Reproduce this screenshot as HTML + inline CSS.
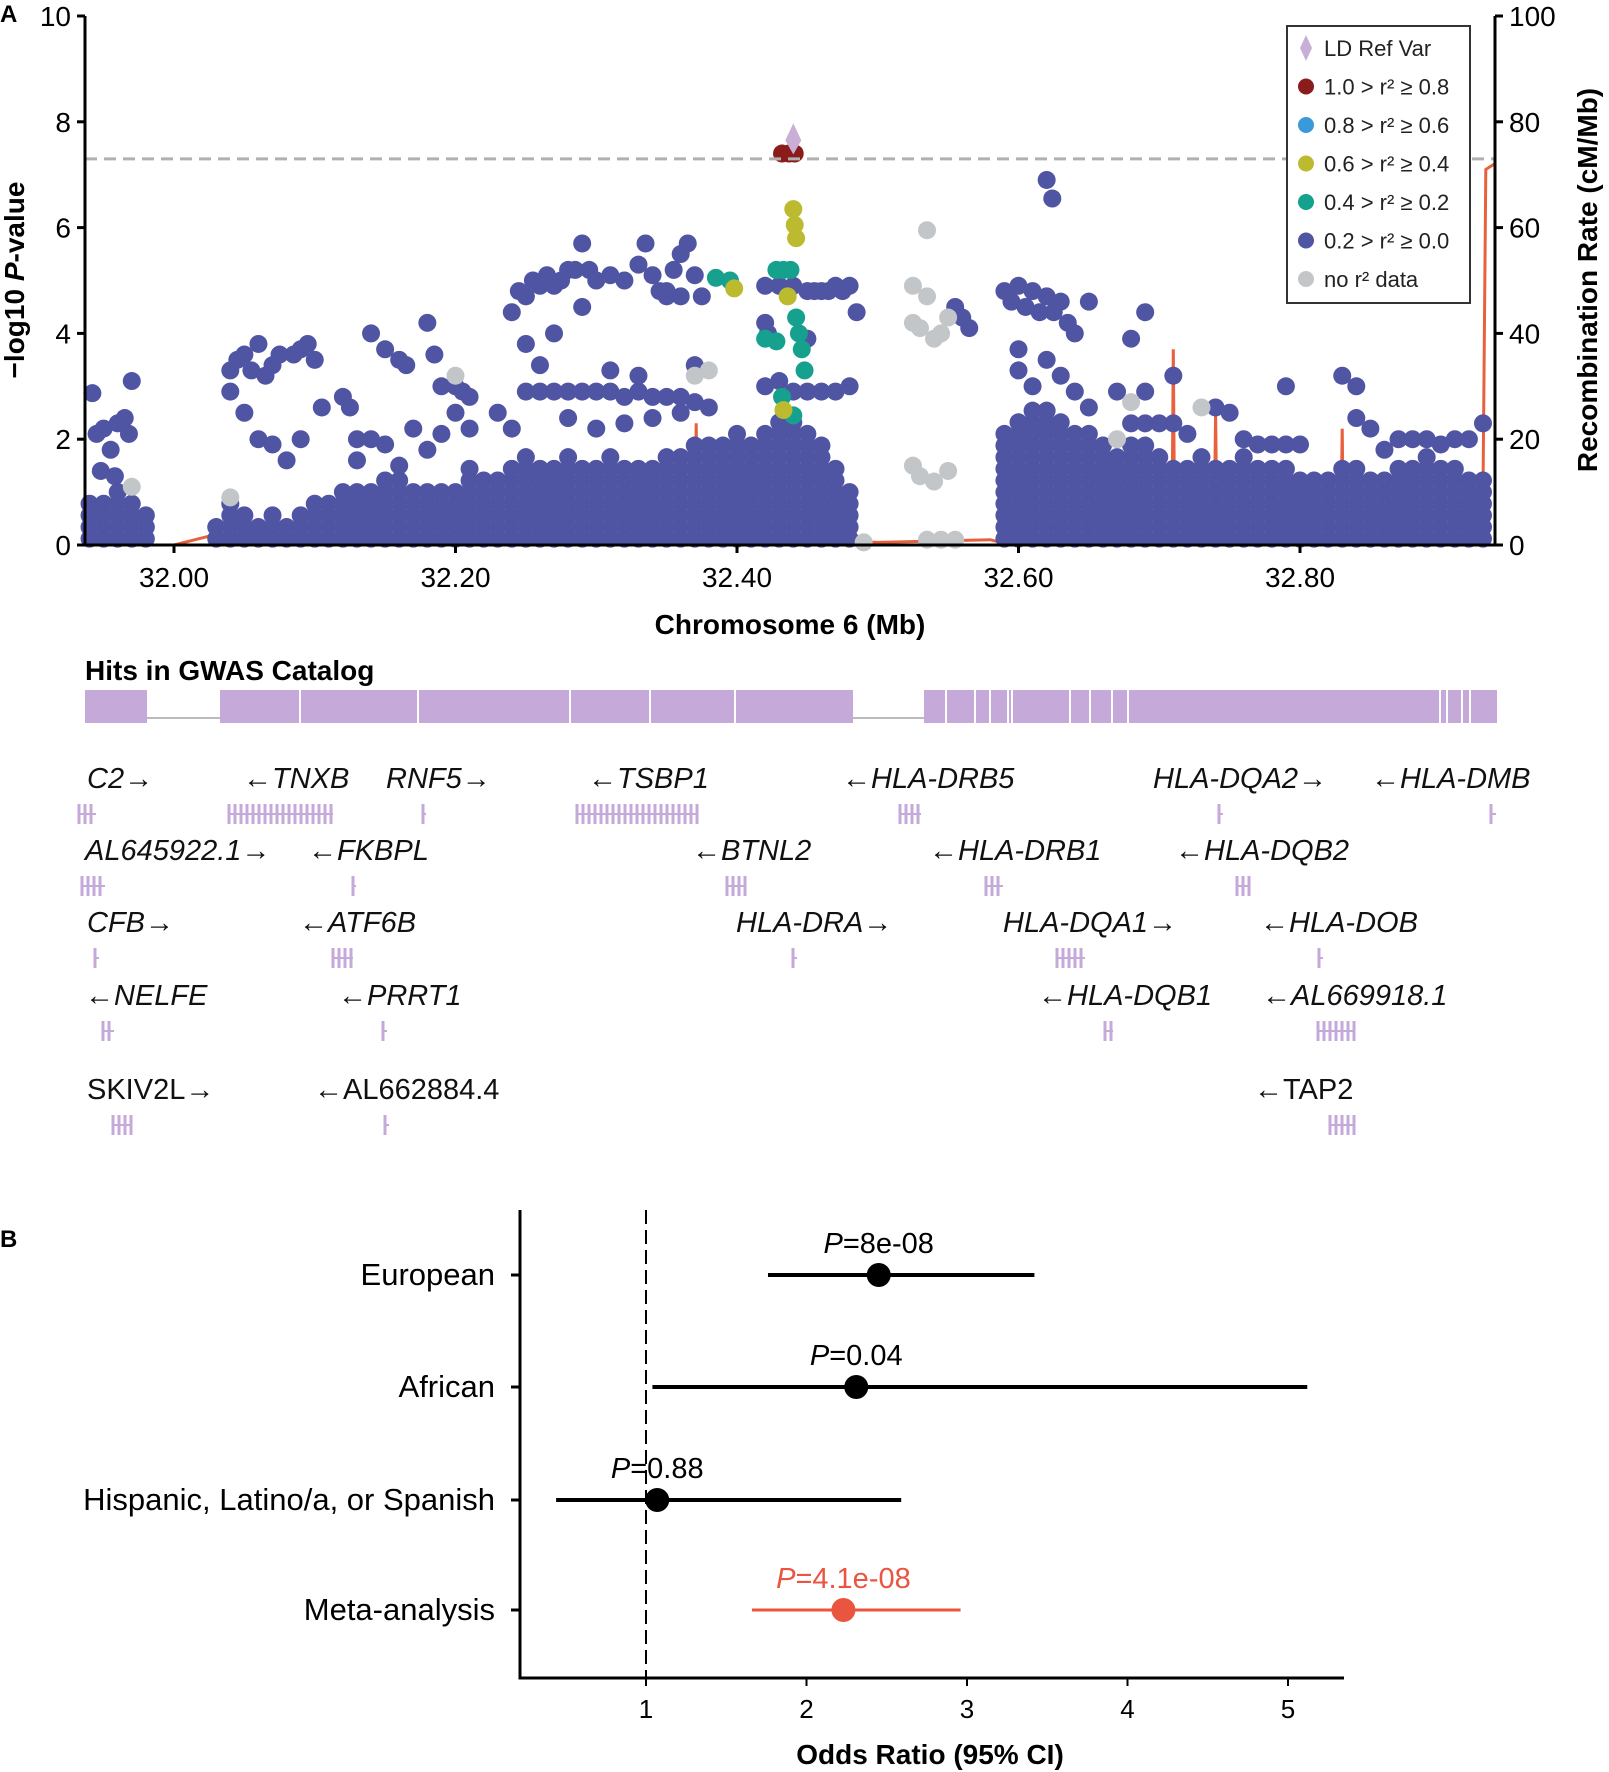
<!DOCTYPE html>
<html><head><meta charset="utf-8"><style>
html,body{margin:0;padding:0;background:#fff;}
svg{display:block;font-family:"Liberation Sans",sans-serif;}
</style></head><body>
<svg id="fig" width="1609" height="1772" viewBox="0 0 1609 1772">
<text x="0" y="22" font-size="24" font-weight="bold">A</text>
<text x="0" y="1247" font-size="24" font-weight="bold">B</text>
<g id="locus"></g>
<g id="genes"></g>
<g id="forest"></g>
</svg>
<script>
// ---------- Panel A data ----------
const denseStart = 31.94;
const denseTop = [0.9,0.8,1.0,0.9,0.7,0,0,0,0,0.4,0.8,0.6,0.5,0.6,0.5,0.7,0.8,0.9,1.0,1.1,1.2,1.3,1.3,1.2,1.1,1.0,1.2,1.5,1.4,1.3,1.6,1.8,1.6,1.5,1.7,1.6,1.5,1.7,1.6,1.6,1.5,1.8,1.7,1.9,2.0,1.9,2.1,2.0,2.3,2.5,2.4,2.3,2.0,1.6,1.2,0,0,0,0,0,0,0,0,0,0,2.3,2.5,2.6,2.6,2.4,2.3,2.1,2.0,1.8,1.9,2.0,1.8,1.6,1.5,1.7,1.5,1.6,1.7,1.6,1.5,1.5,1.4,1.3,1.4,1.6,1.5,1.4,1.3,1.5,1.6,1.7,1.5,1.6,1.4,1.3];
const blueSnps = [[31.942,2.87],[31.945,2.1],[31.95,2.2],[31.955,1.8],[31.96,2.3],[31.965,2.4],[31.97,3.1],[31.948,1.4],[31.958,1.3],[31.968,2.1],
[32.04,3.3],[32.045,3.5],[32.05,3.6],[32.055,3.3],[32.06,3.8],[32.065,3.2],[32.07,3.4],[32.075,3.6],[32.04,2.9],[32.05,2.5],[32.06,2.0],[32.07,1.9],[32.08,1.6],[32.09,2.0],[32.085,3.6],[32.09,3.7],[32.095,3.8],[32.1,3.5],[32.105,2.6],
[32.12,2.8],[32.125,2.6],[32.13,2.0],[32.14,2.0],[32.15,1.9],[32.14,4.0],[32.15,3.7],[32.16,3.5],[32.165,3.4],[32.18,4.2],[32.185,3.6],[32.13,1.6],[32.16,1.5],[32.17,2.2],[32.18,1.8],
[32.19,3.0],[32.2,3.0],[32.205,2.9],[32.21,2.8],[32.2,2.5],[32.21,2.2],[32.19,2.1],[32.24,4.4],[32.245,4.8],[32.25,4.7],[32.255,5.0],[32.26,4.9],[32.265,5.1],[32.27,4.9],[32.275,5.0],[32.28,5.2],[32.285,5.2],[32.29,5.7],[32.295,5.2],[32.29,4.5],[32.25,3.8],[32.26,3.4],[32.27,4.0],
[32.25,2.9],[32.26,2.9],[32.27,2.9],[32.28,2.9],[32.29,2.9],[32.3,2.9],[32.31,2.9],[32.32,2.8],[32.33,2.9],[32.34,2.8],[32.35,2.8],[32.36,2.8],[32.37,2.7],[32.23,2.5],[32.24,2.2],[32.28,2.4],[32.3,2.2],[32.32,2.3],[32.34,2.4],[32.36,2.5],[32.38,2.6],
[32.3,5.0],[32.31,5.1],[32.32,5.0],[32.33,5.3],[32.335,5.7],[32.34,5.1],[32.345,4.8],[32.35,4.8],[32.355,5.2],[32.36,5.5],[32.365,5.7],[32.37,5.1],[32.375,4.7],[32.35,4.7],[32.36,4.7],[32.37,3.4],[32.33,3.2],[32.31,3.3],
[32.42,4.9],[32.42,4.2],[32.422,4.0],[32.43,4.9],[32.44,4.9],[32.45,4.8],[32.455,4.8],[32.46,4.8],[32.465,4.8],[32.47,4.9],[32.475,4.8],[32.48,4.9],[32.485,4.4],[32.45,3.9],[32.45,2.9],[32.46,2.9],[32.47,2.9],[32.48,3.0],[32.42,3.0],[32.43,3.1],[32.44,2.9],
[32.555,4.5],[32.56,4.3],[32.565,4.1],
[32.59,4.8],[32.595,4.6],[32.6,4.9],[32.605,4.5],[32.61,4.8],[32.615,4.4],[32.62,4.7],[32.625,4.4],[32.63,4.6],[32.635,4.2],[32.64,4.0],[32.65,4.6],[32.62,6.9],[32.624,6.55],[32.6,3.7],[32.6,3.3],[32.61,3.0],[32.62,3.5],[32.63,3.2],[32.64,2.9],[32.65,2.6],
[32.67,2.9],[32.68,3.9],[32.69,4.4],[32.69,2.9],[32.68,2.3],[32.69,2.3],[32.7,2.3],[32.71,3.2],[32.71,2.3],[32.72,2.1],[32.74,2.6],[32.75,2.5],[32.76,2.0],[32.77,1.9],[32.78,1.9],[32.79,1.9],[32.8,1.9],[32.79,3.0],[32.83,3.2],[32.84,3.0],[32.84,2.4],[32.85,2.2],[32.86,1.8],[32.87,2.0],[32.88,2.0],[32.89,2.0],[32.9,1.9],[32.91,2.0],[32.92,2.0],[32.93,2.3]];
const greySnps = [[31.97,1.1],[32.04,0.9],[32.2,3.2],[32.37,3.2],[32.38,3.3],[32.535,5.95],[32.525,4.9],[32.535,4.7],[32.525,4.2],[32.53,4.1],[32.54,3.9],[32.55,4.3],[32.545,4.0],[32.525,1.5],[32.53,1.3],[32.54,1.2],[32.55,1.4],[32.535,0.1],[32.545,0.1],[32.555,0.1],[32.49,0.05],[32.73,2.6],[32.68,2.7],[32.67,2.0]];
const tealSnps = [[32.385,5.05],[32.395,5.0],[32.428,5.2],[32.433,5.2],[32.438,5.2],[32.42,3.9],[32.428,3.85],[32.442,4.3],[32.444,4.0],[32.446,3.7],[32.448,3.3],[32.432,2.8],[32.44,2.45]];
const yellowSnps = [[32.398,4.85],[32.44,6.35],[32.441,6.05],[32.442,5.8],[32.436,4.7],[32.433,2.55]];
const redSnps = [[32.432,7.4],[32.437,7.4],[32.441,7.4]];
const refSnp = [[32.44,7.65]];
const recomPos  = [31.937,32.0,32.015,32.03,32.031,32.1,32.2,32.3,32.37,32.371,32.372,32.38,32.45,32.5,32.58,32.59,32.7,32.709,32.71,32.711,32.73,32.739,32.74,32.741,32.82,32.829,32.83,32.831,32.92,32.93,32.932,32.938];
const recomRate = [0,0,1,2,0.5,1,0.5,1,1,23,1,0.5,1,0.5,1,0.3,1,1,37,1,1,1,25,1,1,1,22,1,1,10,71,72];
const yTicks = [0,2,4,6,8,10];
const y2Ticks = [0,20,40,60,80,100];
const xTicks = [32.0,32.2,32.4,32.6,32.8];
const sigLine = 7.3;
const legendLabels = ["LD Ref Var","1.0 > r² ≥ 0.8","0.8 > r² ≥ 0.6","0.6 > r² ≥ 0.4","0.4 > r² ≥ 0.2","0.2 > r² ≥ 0.0","no r² data"];
const legendColors = ["#c9afd6","#8b1c1c","#3a9ad9","#bcbb2f","#16a08e","#4f54a3","#c3c6c9"];

// ---------- Genes ----------
const geneNames = ["C2→","←TNXB","RNF5→","←TSBP1","←HLA-DRB5","HLA-DQA2→","←HLA-DMB","AL645922.1→","←FKBPL","←BTNL2","←HLA-DRB1","←HLA-DQB2","CFB→","←ATF6B","HLA-DRA→","HLA-DQA1→","←HLA-DOB","←NELFE","←PRRT1","←HLA-DQB1","←AL669918.1","SKIV2L→","←AL662884.4","←TAP2"];
const geneRow = [0,0,0,0,0,0,0,1,1,1,1,1,2,2,2,2,2,3,3,3,3,4,4,4];
const geneLabelX = [87,243,386,588,842,1153,1371,85,308,692,929,1175,87,299,736,1003,1260,85,338,1038,1262,87,314,1254];
const geneStart = [79,229,423,577,900,1219,1491,82,353,727,986,1237,95,333,793,1057,1319,103,383,1105,1318,113,385,1330];
const geneEnd   = [96,333,426,697,921,1223,1496,105,356,746,1003,1249,99,353,797,1085,1323,114,387,1113,1355,131,389,1355];

// ---------- Panel B data ----------
const groups = ["European","African","Hispanic, Latino/a, or Spanish","Meta-analysis"];
const orVals = [2.45,2.31,1.07,2.23];
const ciLow = [1.76,1.04,0.44,1.66];
const ciHigh = [3.42,5.12,2.59,2.96];
const pLabels = ["8e-08","0.04","0.88","4.1e-08"];
const orTicks = [1,2,3,4,5];

const NS="http://www.w3.org/2000/svg";
function mk(parent,tag,attrs,text){const e=document.createElementNS(NS,tag);for(const k in attrs)e.setAttribute(k,attrs[k]);if(text!==undefined)e.textContent=text;parent.appendChild(e);return e;}

// ---------- Panel A ----------
const A=document.getElementById('locus');
const xL=85,xR=1495,y0=545,yT=16;
const xs=mb=>174+(mb-32.0)*1407.5;
const ys=v=>y0-v*(y0-yT)/10;
const ys2=r=>y0-r*(y0-yT)/100;
const R=9;
let d=recomPos.map((p,i)=>(i?'L':'M')+xs(p).toFixed(1)+' '+ys2(recomRate[i]).toFixed(1)).join(' ');
let rl=mk(A,'path',{d:d,fill:'none',stroke:'#e8603c','stroke-width':3});


denseTop.forEach((t,i)=>{const mb=denseStart+i*0.01;for(let v=0.12;v<=t;v+=0.22){const c=mk(A,'circle',{cx:xs(mb),cy:ys(v),r:R,fill:'#4f54a3'});

}});
function pts(arr,col){arr.forEach(p=>{const c=mk(A,'circle',{cx:xs(p[0]),cy:ys(p[1]),r:R,fill:col});

});}
pts(blueSnps,'#4f54a3');pts(greySnps,'#c3c6c9');pts(tealSnps,'#16a08e');pts(yellowSnps,'#bcbb2f');pts(redSnps,'#8b1c1c');
refSnp.forEach(p=>{const x=xs(p[0]),y=ys(p[1]);const dm=mk(A,'path',{d:`M${x} ${y-17}L${x+8} ${y}L${x} ${y+14}L${x-8} ${y}Z`,fill:'#c9afd6'});

});
const sl=mk(A,'line',{x1:xL,x2:xR,y1:ys(sigLine),y2:ys(sigLine),stroke:'#b0b0b0','stroke-width':3,'stroke-dasharray':'12 7'});


mk(A,'path',{d:`M${xL} ${yT}V${y0}H${xR}V${yT}`,fill:'none',stroke:'#000','stroke-width':3,});
yTicks.forEach(v=>{mk(A,'line',{x1:xL-8,x2:xL,y1:ys(v),y2:ys(v),stroke:'#000','stroke-width':3});
const t=mk(A,'text',{x:xL-14,y:ys(v)+10,'font-size':28,'text-anchor':'end'},v);

});
y2Ticks.forEach(v=>{mk(A,'line',{x1:xR,x2:xR+8,y1:ys2(v),y2:ys2(v),stroke:'#000','stroke-width':3});
const t=mk(A,'text',{x:xR+14,y:ys2(v)+10,'font-size':28},v);

});
xTicks.forEach(v=>{mk(A,'line',{x1:xs(v),x2:xs(v),y1:y0,y2:y0+8,stroke:'#000','stroke-width':3});
const t=mk(A,'text',{x:xs(v),y:y0+42,'font-size':28,'text-anchor':'middle'},v.toFixed(2));

});
mk(A,'text',{x:790,y:634,'font-size':28,'font-weight':'bold','text-anchor':'middle',},'Chromosome 6 (Mb)');
const yt=mk(A,'text',{transform:'translate(24,280) rotate(-90)','font-size':28,'font-weight':'bold','text-anchor':'middle',});
yt.innerHTML='−log10 <tspan font-style="italic">P</tspan>-value';
mk(A,'text',{transform:'translate(1597,280) rotate(-90)','font-size':28,'font-weight':'bold','text-anchor':'middle',},'Recombination Rate (cM/Mb)');
mk(A,'rect',{x:1287,y:26,width:183,height:277,fill:'#fff',stroke:'#333','stroke-width':2,});
legendLabels.forEach((l,i)=>{const y=48+i*38.5;
if(i===0){mk(A,'path',{d:`M1306 ${y-13}L1312 ${y}L1306 ${y+13}L1300 ${y}Z`,fill:legendColors[0]});}
else mk(A,'circle',{cx:1306,cy:y,r:8,fill:legendColors[i]});
const t=mk(A,'text',{x:1324,y:y+8,'font-size':22,fill:'#222'},l);

});

// ---------- Gene track ----------
const G=document.getElementById('genes');
mk(G,'text',{x:85,y:680,'font-size':28,'font-weight':'bold',},'Hits in GWAS Catalog');
mk(G,'rect',{x:85,y:690,width:1412,height:33,fill:'#c5a9d8',});
mk(G,'rect',{x:147,y:690,width:73,height:33,fill:'#fff'});
mk(G,'rect',{x:853,y:690,width:71,height:33,fill:'#fff'});
mk(G,'line',{x1:147,x2:220,y1:718,y2:718,stroke:'#bbb','stroke-width':2});
mk(G,'line',{x1:853,x2:924,y1:718,y2:718,stroke:'#bbb','stroke-width':2});
[300,418,570,650,735,946,975,990,1008,1012,1070,1090,1112,1128,1440,1447,1462,1470].forEach(x=>mk(G,'line',{x1:x,x2:x,y1:690,y2:723,stroke:'#fff','stroke-width':2}));
const rowY=[788,860,932,1005,1099];
geneNames.forEach((n,i)=>{const r=geneRow[i];
const t=mk(G,'text',{x:geneLabelX[i],y:rowY[r],'font-size':29,'font-style':r<4?'italic':'normal',fill:'#111'},n);


const gy=rowY[r]+16;
const g=mk(G,'rect',{x:geneStart[i],y:gy,width:Math.max(3,geneEnd[i]-geneStart[i]),height:20,fill:'none'});
mk(G,'line',{x1:geneStart[i],x2:geneEnd[i],y1:gy+10,y2:gy+10,stroke:'#c5a9d8','stroke-width':2});
for(let x=geneStart[i];x<=geneEnd[i];x+=6)mk(G,'line',{x1:x,x2:x,y1:gy,y2:gy+20,stroke:'#c5a9d8','stroke-width':3});

});

// ---------- Panel B ----------
const B=document.getElementById('forest');
const bx=v=>646+(v-1)*160.5;
const rowsY=[1275,1387,1500,1610];
mk(B,'path',{d:'M520 1210V1678H1344',fill:'none',stroke:'#000','stroke-width':3,});
mk(B,'line',{x1:bx(1),x2:bx(1),y1:1210,y2:1678,stroke:'#000','stroke-width':2,'stroke-dasharray':'14 6',});
orTicks.forEach(v=>{mk(B,'line',{x1:bx(v),x2:bx(v),y1:1678,y2:1686,stroke:'#000','stroke-width':2});
const t=mk(B,'text',{x:bx(v),y:1718,'font-size':26,'text-anchor':'middle'},v);

});
mk(B,'text',{x:930,y:1764,'font-size':28,'font-weight':'bold','text-anchor':'middle',},'Odds Ratio (95% CI)');
groups.forEach((g,i)=>{const y=rowsY[i];const col=i===3?'#e9553f':'#000';
mk(B,'line',{x1:511,x2:520,y1:y,y2:y,stroke:'#000','stroke-width':3});
const t=mk(B,'text',{x:495,y:y+10,'font-size':31,'text-anchor':'end'},g);


const ci=mk(B,'line',{x1:bx(ciLow[i]),x2:bx(ciHigh[i]),y1:y,y2:y,stroke:col,'stroke-width':i===3?3:4});


const c=mk(B,'circle',{cx:bx(orVals[i]),cy:y,r:12,fill:col});


const p=mk(B,'text',{x:bx(orVals[i]),y:y-22,'font-size':29,'text-anchor':'middle',fill:col});
p.innerHTML='<tspan font-style="italic">P</tspan>='+pLabels[i];

});
</script>
</body></html>
